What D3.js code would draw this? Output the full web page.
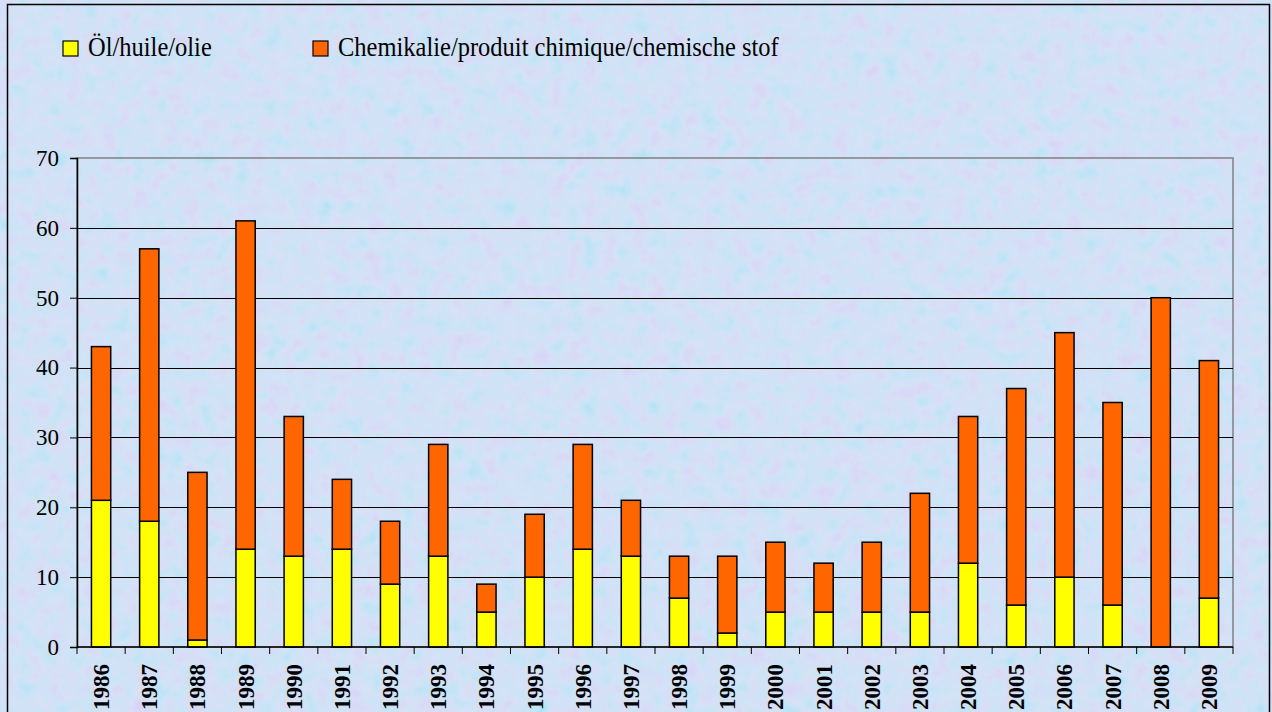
<!DOCTYPE html>
<html>
<head>
<meta charset="utf-8">
<script src="https://cdn.jsdelivr.net/npm/d3@7"></script>
<style>
  body { margin: 0; background: #fff; }
  svg { display: block; }
</style>
</head>
<body>
<div id="chart"></div>
<script>
// Datos
const years = ["1986","1987","1988","1989","1990","1991","1992","1993","1994","1995","1996","1997",
  "1998","1999","2000","2001","2002","2003","2004","2005","2006","2007","2008","2009"];
const oil = [21,18,1,14,13,14,9,13,5,10,14,13,7,2,5,5,5,5,12,6,10,6,0,7];
const chem = [22,39,24,47,20,10,9,16,4,9,15,8,6,11,10,7,10,17,21,31,35,29,50,34];
const seriesNames = ["Öl/huile/olie", "Chemikalie/produit chimique/chemische stof"];
const seriesColors = ["#ffff00", "#ff6600"];
const yTicks = [0,10,20,30,40,50,60,70];

const W = 1272, H = 712;
const plot = { left: 77, right: 1233, top: 158, bottom: 647 };
const serif = '"Liberation Serif"';

const svg = d3.select("#chart").append("svg")
  .attr("width", W).attr("height", H);

// Fondo con textura (azul claro con manchas rosadas y cian)
const defs = svg.append("defs");
const f = defs.append("filter").attr("id", "tex")
  .attr("x", 0).attr("y", 0).attr("width", "100%").attr("height", "100%");
f.append("feTurbulence").attr("type", "fractalNoise")
  .attr("baseFrequency", 0.06).attr("numOctaves", 3).attr("seed", 7).attr("result", "n");
f.append("feColorMatrix").attr("in", "n").attr("type", "matrix")
  .attr("values", "1.2 -0.9 0 0 0.66  -0.5 0.9 0 0 0.77  0 0 0 0 0.97  0 0 0 0 0.45");

svg.append("rect").attr("x", 0).attr("y", 0).attr("width", W).attr("height", H)
  .attr("fill", "#ccdbf5");
svg.append("rect").attr("x", 0).attr("y", 0).attr("width", W).attr("height", H)
  .attr("filter", "url(#tex)").attr("opacity", 0.5);

// Borde exterior
svg.append("rect").attr("x", 7.5).attr("y", 4.5).attr("width", 1262).attr("height", 720)
  .attr("fill", "none").attr("stroke", "#000").attr("stroke-width", 1.5);

const x = d3.scaleBand().domain(years).range([plot.left, plot.right]).paddingInner(0.6).paddingOuter(0.3);
const xb = d3.scaleBand().domain(years).range([plot.left, plot.right]);
const y = d3.scaleLinear().domain([0, 70]).range([plot.bottom, plot.top]);

// Borde del área de trazado
svg.append("rect").attr("x", plot.left).attr("y", plot.top)
  .attr("width", plot.right - plot.left).attr("height", plot.bottom - plot.top)
  .attr("fill", "none").attr("stroke", "#808080").attr("stroke-width", 1.5);

// Rejilla
svg.append("g").selectAll("line").data(yTicks.filter(d => d > 0 && d < 70)).join("line")
  .attr("x1", plot.left).attr("x2", plot.right)
  .attr("y1", d => Math.round(y(d)) + 0.5).attr("y2", d => Math.round(y(d)) + 0.5)
  .attr("stroke", "#000").attr("stroke-width", 1);

// Barras apiladas
const stackData = years.map((yr, i) => ({ year: yr, oil: oil[i], chem: chem[i] }));
const stack = d3.stack().keys(["oil", "chem"])(stackData);

svg.append("g").selectAll("g").data(stack).join("g")
  .attr("fill", (d, i) => seriesColors[i])
  .selectAll("rect").data(d => d.filter(v => v[1] > v[0])).join("rect")
  .attr("x", d => x(d.data.year))
  .attr("width", x.bandwidth())
  .attr("y", d => y(d[1]))
  .attr("height", d => y(d[0]) - y(d[1]))
  .attr("stroke", "#000").attr("stroke-width", 1.5);

// Eje Y
const yAxis = svg.append("g").attr("transform", `translate(${plot.left},0)`)
  .call(d3.axisLeft(y).tickValues(yTicks).tickSize(7).tickPadding(11));
yAxis.select(".domain").attr("stroke", "#000").attr("stroke-width", 1.5);
yAxis.selectAll(".tick line").attr("stroke", "#000");
yAxis.selectAll("text").style("font-family", serif).attr("font-size", 23).attr("fill", "#000");

// Eje X
const xAxis = svg.append("g").attr("transform", `translate(0,${plot.bottom})`);
xAxis.append("line").attr("x1", plot.left).attr("x2", plot.right)
  .attr("stroke", "#000").attr("stroke-width", 1.5);
xAxis.selectAll("line.tk").data(years.concat(["end"])).join("line").attr("class", "tk")
  .attr("x1", (d, i) => plot.left + i * xb.bandwidth())
  .attr("x2", (d, i) => plot.left + i * xb.bandwidth())
  .attr("y1", 0).attr("y2", 7).attr("stroke", "#000").attr("stroke-width", 1);
xAxis.selectAll("text").data(years).join("text")
  .attr("transform", d => `translate(${xb(d) + xb.bandwidth() / 2},17) rotate(-90)`)
  .attr("text-anchor", "end").attr("dy", "0.35em")
  .style("font-family", serif)
  .attr("font-size", 23).attr("font-weight", "bold")
  .text(d => d);

// Leyenda
const legendX = [63, 313];
const legend = svg.append("g").selectAll("g").data(seriesNames).join("g")
  .attr("transform", (d, i) => `translate(${legendX[i]},41)`);
legend.append("rect").attr("width", 15).attr("height", 15)
  .attr("fill", (d, i) => seriesColors[i]).attr("stroke", "#000").attr("stroke-width", 1.2);
legend.append("text")
  .attr("transform", "translate(25,15) scale(1,1.12)")
  .style("font-family", serif)
  .attr("font-size", 24.5).text(d => d);
</script>
</body>
</html>
